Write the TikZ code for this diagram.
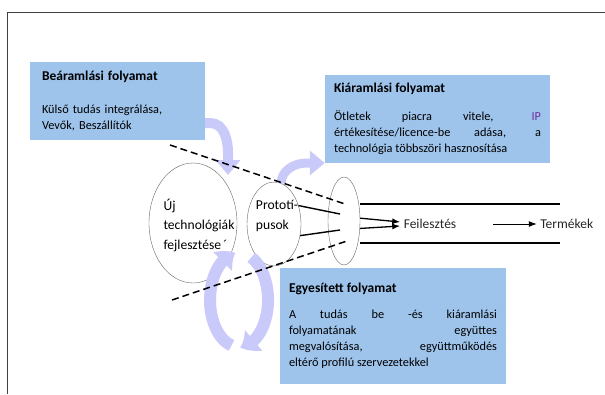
\documentclass[tikz,border=0pt]{standalone}
\usepackage{fontspec}
\setmainfont{Carlito}
\usepackage{xcolor}
\usetikzlibrary{positioning,arrows.meta,bending,shapes.geometric}
\definecolor{boxblue}{RGB}{158,196,236}
\definecolor{flowlila}{RGB}{202,202,250}
\definecolor{ipviolet}{RGB}{112,48,160}
\tolerance=9999
\hyphenpenalty=10000
\exhyphenpenalty=10000

\begin{document}
\begin{tikzpicture}[x=1pt,y=1pt,node distance=77pt]
  \tikzstyle{flowbox} = [fill=boxblue, inner xsep=9pt, font=\fontsize{12.3}{16}\selectfont]
  \tikzstyle{stage} = [ellipse, draw=black!60, fill=white, inner sep=0pt]
  \tikzstyle{stagetext} = [align=left, inner sep=0pt, font=\fontsize{13.6}{19.5}\selectfont]
  \tikzstyle{bigflow} = [draw=flowlila, line width=10pt, -{Triangle[width=24pt,length=15pt]}]
  \tikzstyle{cycleflow} = [draw=flowlila, line width=12pt, -{Triangle[bend,width=26pt,length=15pt]}]
  \tikzstyle{cone} = [line width=1.5pt, dash pattern=on 7pt off 4pt]
  \tikzstyle{pipe} = [line width=2.6pt]
  \tikzstyle{feed} = [line width=1.3pt, -{Latex[length=8pt,width=6pt]}]
  \useasboundingbox (0,0) rectangle (605,-394);
  \draw[black!75, line width=1.2pt] (605,-12.5) -- (7.5,-12.5) -- (7.5,-394);

  \node[flowbox, inner xsep=12pt, text width=151pt, minimum height=78pt, align=left] (inflow) at (117.5,-101)
    {{\fontsize{13.5}{16}\selectfont\bfseries Beáramlási folyamat}\par\vspace{17pt}Külső tudás integrálása,\\Vevők, Beszállítók};
  \node[flowbox, text width=207pt, minimum height=88pt, align=justify] (outflow) at (437.5,-119)
    {{\fontsize{13.5}{16}\selectfont\bfseries Kiáramlási folyamat}\par\vspace{12pt}Ötletek piacra vitele, \textcolor{ipviolet}{IP}\linebreak
     értékesítése/licence-be adása, a\linebreak technológia többszöri hasznosítása};
  \node[flowbox, text width=208pt, minimum height=116pt, align=justify] (jointflow) at (393,-326)
    {{\fontsize{13.5}{16}\selectfont\bfseries Egyesített folyamat}\par\vspace{10pt}A tudás be -és kiáramlási\linebreak
     folyamatának együttes\linebreak megvalósítása, együttműködés\linebreak eltérő profilú szervezetekkel};

  \node[stage, minimum width=88pt, minimum height=120pt] (newtech) at (193,-223) {};
  \node[stagetext] (newtechlabel) at (199,-225) {Új\\technológiák\\fejlesztése\,´};
  \node[stage, minimum width=54pt, minimum height=84pt] (proto) at (274,-224) {};
  \node[stagetext] (protolabel) at (277,-216) {Prototí-\\pusok};
  \node[stage, minimum width=32pt, minimum height=88pt] (gate) at (344,-221) {};

  \coordinate (intip) at (228,-175);
  \draw[bigflow] ([yshift=-22pt]inflow.east) -- ++(5,0) to[out=0,in=90] ([yshift=22pt]intip) -- (intip);
  \draw[bigflow, line width=9pt] (proto.80) to[out=90,in=180] ([shift={(-18pt,-44pt)}]outflow.west) -- ([yshift=-44pt]outflow.west);

  \coordinate (cycleleft) at (231.5,-345.4);
  \coordinate (cycleright) at (251.3,-257.4);
  \draw[cycleflow] (cycleleft) arc[start angle=255, end angle=97, x radius=29, y radius=47];
  \draw[cycleflow] (cycleright) arc[start angle=65, end angle=-88, x radius=29, y radius=47];

  \draw[cone] (170,-145) -- (345,-204);
  \draw[cone] (172,-300) -- (347,-241);

  \draw[line width=1.4pt] (proto.37) -- ([shift={(-4,7)}]gate.center);
  \draw[line width=1.4pt] (proto.-24) -- ([shift={(-4,-9)}]gate.center);

  \draw[pipe] (360,-204) -- (560,-204);
  \draw[pipe] (360,-243) -- (560,-243);

  \node[font=\fontsize{13.5}{15}\selectfont, text=black!85] (dev) at (430,-224) {Feilesztés};
  \node[right=of dev, font=\fontsize{13.5}{15}\selectfont, text=black!85] (prod) {Termékek};
  \coordinate (devout) at (493,-224);
  \draw[feed] (gate.10) -- ([yshift=2pt]dev.west);
  \draw[feed] (gate.-25) -- ([yshift=-2pt]dev.west);
  \draw[feed, line width=1pt] (devout) -- (prod.west);
\end{tikzpicture}
\end{document}
